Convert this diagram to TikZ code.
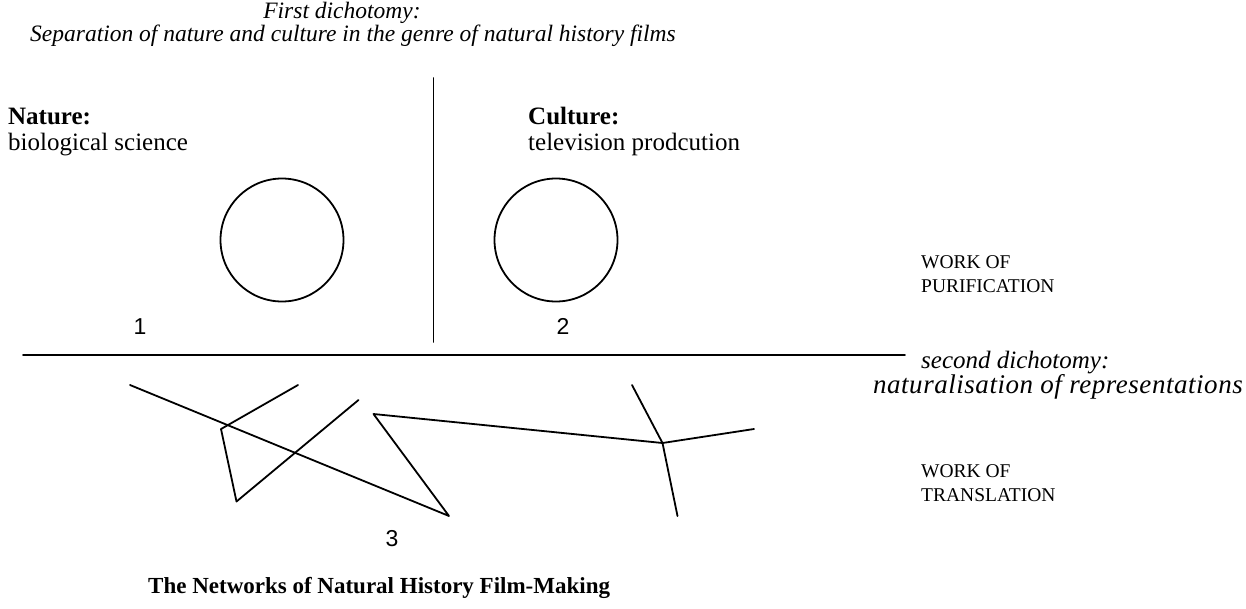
\documentclass[tikz,border=0pt]{standalone}
\usepackage{fontspec}
\setmainfont{Liberation Serif}
\newfontfamily\arialfont{Liberation Sans}
\usetikzlibrary{shapes.geometric}
\tikzset{
  line/.style={line width=1.8pt, line cap=round, line join=round},
  head/.style={inner sep=0pt, anchor=base, font=\fontsize{23.5}{28}\selectfont\itshape},
  lab/.style={inner sep=0pt, anchor=base west, font=\fontsize{25}{30}\selectfont},
  blab/.style={inner sep=0pt, anchor=base west, font=\fontsize{25}{30}\selectfont\bfseries},
  ilab/.style={inner sep=0pt, anchor=base west, font=\fontsize{25}{30}\selectfont\itshape},
  wide/.style={inner sep=0pt, anchor=base east, font=\fontsize{27}{31}\selectfont\itshape\addfontfeature{LetterSpace=2}},
  small/.style={inner sep=0pt, anchor=base west, font=\fontsize{19.5}{23}\selectfont},
  num/.style={inner sep=0pt, anchor=base, font=\fontsize{23}{27}\selectfont\arialfont},
  ttl/.style={inner sep=0pt, anchor=base west, font=\fontsize{23}{27}\selectfont\bfseries},
  ring/.style={draw, line width=1.8pt, circle, minimum size=123pt, inner sep=0pt}
}
\begin{document}
\begin{tikzpicture}[x=1pt,y=-1pt]
\useasboundingbox (0,0) rectangle (1246,608);
% texts
\node[head] (fd) at (342,18) {First dichotomy:};
\node[head] (sep) at (353,41) {Separation of nature and culture in the genre of natural history films};
\node[blab] (nat) at (8,124) {Nature:};
\node[lab] (bio) at (8,150) {biological science};
\node[blab] (cul) at (528,124) {Culture:};
\node[lab] (tv) at (528,150) {television prodcution};
\node[small] (wp1) at (921,268) {WORK OF};
\node[small] (wp2) at (921,292) {PURIFICATION};
\node[ilab] (sd) at (921,368) {second dichotomy:};
\node[wide] (nr) at (1243,393) {naturalisation of representations};
\node[small] (wt1) at (921,477) {WORK OF};
\node[small] (wt2) at (921,501) {TRANSLATION};
\node[num] (n1) at (140,334) {1};
\node[num] (n2) at (563,334) {2};
\node[num] (n3) at (392,546) {3};
\node[ttl] (title) at (148,593) {The Networks of Natural History Film-Making};
% circles
\node[ring] (c1) at (282,240) {};
\node[ring] (c2) at (556,240) {};
% dividing lines
\coordinate (vt) at (433.5,78);
\coordinate (vb) at (433.5,342);
\coordinate (hl) at (23,355);
\coordinate (hr) at (905,355);
\draw[line] (vt) -- (vb);
\draw[line] (hl) -- (hr);
% network
\coordinate (a1) at (130,385);
\coordinate (a2) at (449,516);
\coordinate (b1) at (298,385);
\coordinate (b2) at (221,429);
\coordinate (b3) at (236.5,501.5);
\coordinate (b4) at (358.5,400);
\coordinate (c3) at (373.5,414);
\coordinate (hub) at (662.5,443);
\coordinate (h1) at (632,385);
\coordinate (h2) at (754,429);
\coordinate (h3) at (677.5,516);
\draw[line] (a1) -- (a2) -- (c3) -- (hub);
\draw[line] (b1) -- (b2) -- (b3) -- (b4);
\draw[line] (h1) -- (hub) -- (h2);
\draw[line] (hub) -- (h3);
\end{tikzpicture}
\end{document}
